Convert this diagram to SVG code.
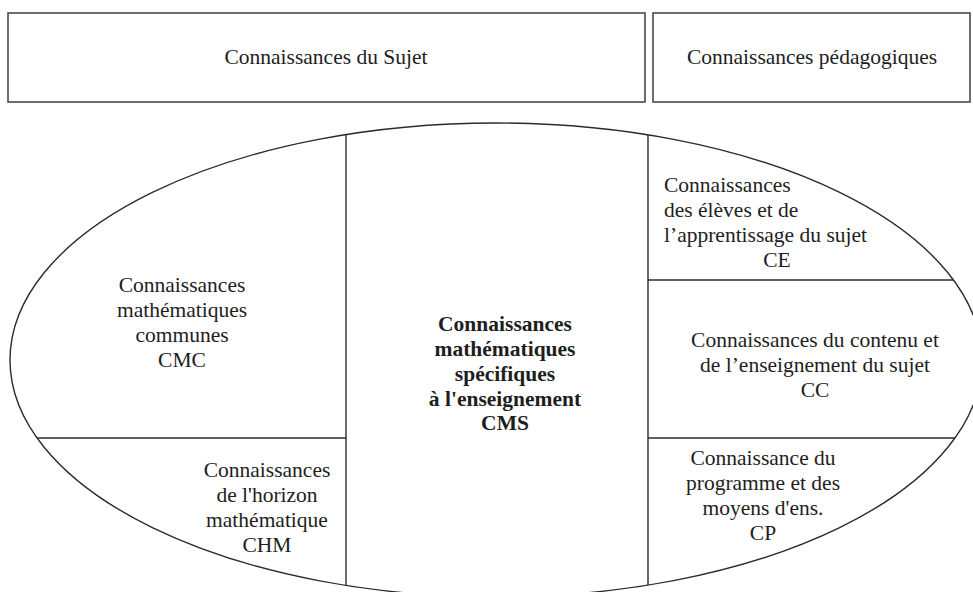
<svg xmlns="http://www.w3.org/2000/svg" width="973" height="592" viewBox="0 0 973 592">
  <style>
    .frame { fill: #ffffff; stroke: #4a4a4a; stroke-width: 1.6; }
    .line { fill: none; stroke: #2b2b2b; stroke-width: 1.4; }
    text { font-family: "Liberation Serif", "Times New Roman", serif; font-size: 21.5px; fill: #1e1e1e; }
    .c { text-anchor: middle; }
    .b { font-weight: bold; }
  </style>
  <defs>
    <clipPath id="oval-clip">
      <ellipse cx="496" cy="360" rx="486" ry="237"/>
    </clipPath>
  </defs>
  <rect width="973" height="592" fill="#ffffff"/>

  <!-- header boxes -->
  <g id="sujet">
    <rect class="frame" x="8" y="13" width="637" height="89"/>
    <text class="c" x="326" y="64">Connaissances du Sujet</text>
  </g>
  <g id="pedagogiques">
    <rect class="frame" x="653" y="13" width="317" height="89"/>
    <text class="c" x="812" y="64">Connaissances pédagogiques</text>
  </g>

  <!-- outer oval -->
  <g id="oval">
    <ellipse class="line" cx="496" cy="360" rx="486" ry="237"/>
  </g>

  <!-- dividers inside the oval -->
  <g id="connectors" clip-path="url(#oval-clip)">
    <line class="line" x1="346" y1="100" x2="346" y2="600"/>
    <line class="line" x1="648" y1="100" x2="648" y2="600"/>
    <line class="line" x1="0" y1="438" x2="346" y2="438"/>
    <line class="line" x1="648" y1="280" x2="973" y2="280"/>
    <line class="line" x1="648" y1="438" x2="973" y2="438"/>
  </g>

  <g id="cmc">
    <text class="c" x="182" y="292">Connaissances</text>
    <text class="c" x="182" y="317">mathématiques</text>
    <text class="c" x="182" y="342">communes</text>
    <text class="c" x="182" y="367">CMC</text>
  </g>

  <g id="chm">
    <text class="c" x="267" y="477">Connaissances</text>
    <text class="c" x="267" y="502">de l'horizon</text>
    <text class="c" x="267" y="527">mathématique</text>
    <text class="c" x="267" y="552">CHM</text>
  </g>

  <g id="cms">
    <text class="c b" x="505" y="331">Connaissances</text>
    <text class="c b" x="505" y="356">mathématiques</text>
    <text class="c b" x="505" y="381">spécifiques</text>
    <text class="c b" x="505" y="406">à l'enseignement</text>
    <text class="c b" x="505" y="430">CMS</text>
  </g>

  <g id="ce">
    <text x="664" y="192">Connaissances</text>
    <text x="664" y="217">des élèves et de</text>
    <text x="664" y="242">l’apprentissage du sujet</text>
    <text class="c" x="777" y="267">CE</text>
  </g>

  <g id="cc">
    <text class="c" x="815" y="347">Connaissances du contenu et</text>
    <text class="c" x="815" y="372">de l’enseignement du sujet</text>
    <text class="c" x="815" y="397">CC</text>
  </g>

  <g id="cp">
    <text class="c" x="763" y="465">Connaissance du</text>
    <text class="c" x="763" y="490">programme et des</text>
    <text class="c" x="763" y="515">moyens d'ens.</text>
    <text class="c" x="763" y="540">CP</text>
  </g>
</svg>
